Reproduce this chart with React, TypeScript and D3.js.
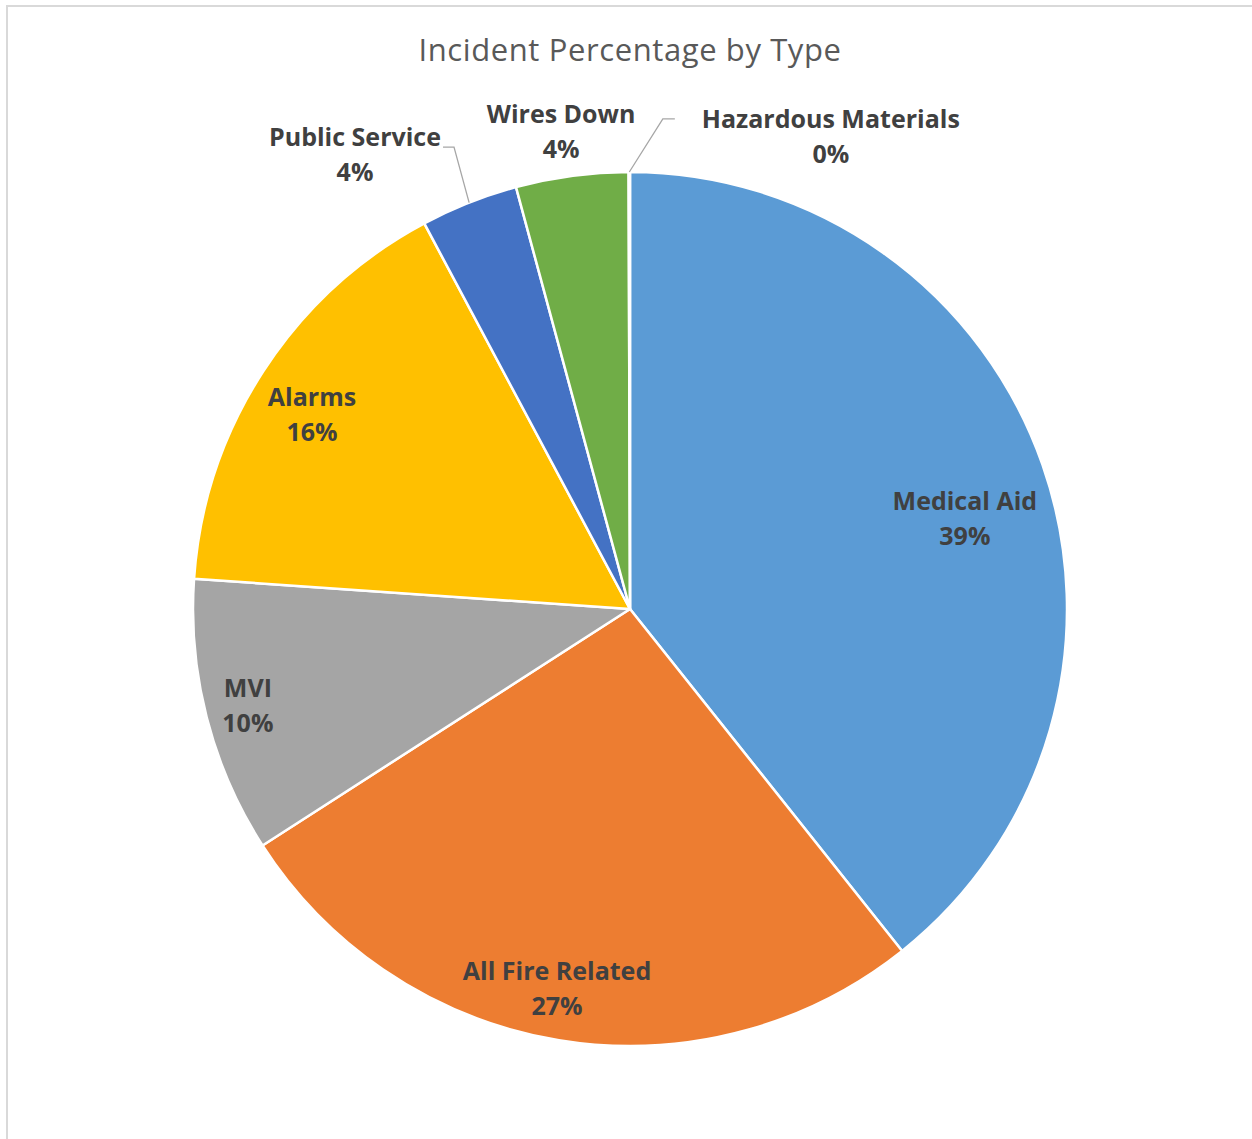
import React from "react";
import * as d3 from "d3";

// Incident categories, clockwise from 12 o'clock
const categories = [
  "Medical Aid",
  "All Fire Related",
  "MVI",
  "Alarms",
  "Public Service",
  "Wires Down",
  "Hazardous Materials",
];

// Share of incidents (percent)
const shares = [39.3, 26.6, 10.2, 16.1, 3.6, 4.15, 0.05];

const sliceColors = [
  "#5B9BD5",
  "#ED7D31",
  "#A5A5A5",
  "#FFC000",
  "#4472C4",
  "#70AD47",
  "#255E91",
];

const chartTitle = "Incident Percentage by Type";

// Label placement: polar position of each label block (degrees clockwise from top, radius in px),
// plus optional leader-line offsets relative to the label block centre.
const labelLayout: Record<
  string,
  { angle: number; r: number; leader?: { elbow: [number, number]; end: [number, number] } }
> = {
  "Medical Aid": { angle: 74.8, r: 347 },
  "All Fire Related": { angle: 190.9, r: 386 },
  MVI: { angle: 255.9, r: 394 },
  Alarms: { angle: 301.5, r: 373 },
  "Public Service": { angle: 328.85, r: 531.6, leader: { elbow: [99, -7], end: [88, -7] } },
  "Wires Down": { angle: 351.8, r: 483 },
  "Hazardous Materials": { angle: 23.0, r: 514, leader: { elbow: [-168, -17], end: [-156, -17] } },
};

const W = 1252;
const H = 1139;
const CX = 630;
const CY = 609;
const R = 437;

const LABEL_FONT = "'Open Sans', Lato, sans-serif";
const TITLE_FONT = "'Open Sans', Lato, sans-serif";

export default function App() {
  const data = categories.map((name, i) => ({ name, value: shares[i], color: sliceColors[i] }));
  const total = d3.sum(shares);
  const pct = (v: number) => `${Math.round((v / total) * 100)}%`;

  const pie = d3
    .pie<{ name: string; value: number; color: string }>()
    .sort(null)
    .value((d) => d.value)
    .startAngle(0)
    .endAngle(2 * Math.PI);
  const arcs = pie(data);

  const arc = d3
    .arc<d3.PieArcDatum<{ name: string; value: number; color: string }>>()
    .innerRadius(0)
    .outerRadius(R);

  const polar = (deg: number, r: number): [number, number] => {
    const a = (deg * Math.PI) / 180;
    return [CX + r * Math.sin(a), CY - r * Math.cos(a)];
  };

  return (
    <svg
      width={W}
      height={H}
      viewBox={`0 0 ${W} ${H}`}
      style={{ position: "absolute", left: 0, top: 0, background: "#fff" }}
    >
      <rect x={0} y={0} width={W} height={H} fill="#fff" />
      {/* chart area frame */}
      <rect x={7} y={6} width={W + 20} height={H + 20} fill="none" stroke="#D9D9D9" strokeWidth={2} />

      <text
        x={CX}
        y={61}
        textAnchor="middle"
        fontFamily={TITLE_FONT}
        fontSize={31}
        letterSpacing={0.6}
        fill="#595959"
      >
        {chartTitle}
      </text>

      <g transform={`translate(${CX},${CY})`}>
        {arcs.map((a) => (
          <path
            key={a.data.name}
            d={arc(a) || ""}
            fill={a.data.color}
            stroke="#fff"
            strokeWidth={2.5}
            strokeLinejoin="round"
          />
        ))}
      </g>

      {arcs.map((a) => {
        const lay = labelLayout[a.data.name];
        const [lx, ly] = polar(lay.angle, lay.r);
        const leader = lay.leader;
        let leaderPath: string | null = null;
        if (leader) {
          const mid = (a.startAngle + a.endAngle) / 2;
          const sx = CX + R * Math.sin(mid);
          const sy = CY - R * Math.cos(mid);
          const p = d3.path();
          p.moveTo(sx, sy);
          p.lineTo(lx + leader.elbow[0], ly + leader.elbow[1]);
          p.lineTo(lx + leader.end[0], ly + leader.end[1]);
          leaderPath = p.toString();
        }
        return (
          <g key={`lbl-${a.data.name}`}>
            {leaderPath && (
              <path d={leaderPath} fill="none" stroke="#A6A6A6" strokeWidth={1.3} />
            )}
            <text
              x={lx}
              y={ly - 8}
              textAnchor="middle"
              fontFamily={LABEL_FONT}
              fontWeight={700}
              fontSize={25}
              fill="#404040"
            >
              <tspan x={lx}>{a.data.name}</tspan>
              <tspan x={lx} y={ly + 27}>
                {pct(a.data.value)}
              </tspan>
            </text>
          </g>
        );
      })}
    </svg>
  );
}
